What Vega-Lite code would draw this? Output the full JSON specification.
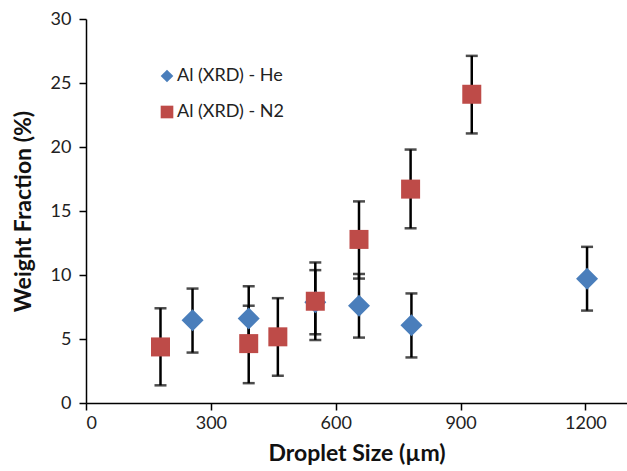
{
  "$schema": "https://vega.github.io/schema/vega-lite/v6.json",
  "width": 541,
  "height": 384,
  "autosize": "none",
  "padding": {"left": 86, "top": 19, "right": 0, "bottom": 68},
  "background": "white",
  "config": {
    "view": {"stroke": null},
    "font": "Lato",
    "axis": {
      "grid": false,
      "domainColor": "#000000",
      "domainWidth": 1.5,
      "tickColor": "#000000",
      "tickWidth": 1.5,
      "labelColor": "#222222",
      "labelFont": "Lato",
      "labelFontSize": 18,
      "titleFont": "Lato",
      "titleFontSize": 23,
      "titleFontWeight": "bold",
      "titleColor": "#111111"
    },
    "legend": {"symbolSize": 160}
  },
  "data": {
    "values": [
      {"series": "Al (XRD) - He", "size": 256, "wf": 6.47, "lo": 3.94, "hi": 8.94},
      {"series": "Al (XRD) - He", "size": 391, "wf": 6.6, "lo": 4.1, "hi": 9.12},
      {"series": "Al (XRD) - He", "size": 551, "wf": 7.87, "lo": 5.37, "hi": 10.38},
      {"series": "Al (XRD) - He", "size": 656, "wf": 7.6, "lo": 5.11, "hi": 10.08},
      {"series": "Al (XRD) - He", "size": 782, "wf": 6.07, "lo": 3.56, "hi": 8.56},
      {"series": "Al (XRD) - He", "size": 1204, "wf": 9.7, "lo": 7.22, "hi": 12.2},
      {"series": "Al (XRD) - N2", "size": 179, "wf": 4.38, "lo": 1.38, "hi": 7.4},
      {"series": "Al (XRD) - N2", "size": 391, "wf": 4.64, "lo": 1.55, "hi": 7.6},
      {"series": "Al (XRD) - N2", "size": 461, "wf": 5.17, "lo": 2.13, "hi": 8.19},
      {"series": "Al (XRD) - N2", "size": 551, "wf": 7.95, "lo": 4.92, "hi": 10.98},
      {"series": "Al (XRD) - N2", "size": 656, "wf": 12.78, "lo": 9.72, "hi": 15.75},
      {"series": "Al (XRD) - N2", "size": 780, "wf": 16.71, "lo": 13.65, "hi": 19.8},
      {"series": "Al (XRD) - N2", "size": 927, "wf": 24.12, "lo": 21.06, "hi": 27.12}
    ]
  },
  "encoding": {
    "x": {
      "field": "size", "type": "quantitative",
      "scale": {"domain": [0, 1300], "nice": false},
      "axis": {"values": [0, 300, 600, 900, 1200], "format": "d", "title": "Droplet Size (µm)", "tickSize": 7, "labelPadding": 4, "titlePadding": 10}
    },
    "y": {
      "field": "wf", "type": "quantitative",
      "scale": {"domain": [0, 30], "nice": false},
      "axis": {"values": [0, 5, 10, 15, 20, 25, 30], "title": "Weight Fraction (%)", "tickSize": 7, "labelPadding": 8, "titlePadding": 15}
    },
    "color": {
      "field": "series", "type": "nominal",
      "scale": {"domain": ["Al (XRD) - He", "Al (XRD) - N2"], "range": ["#4A7EBB", "#BE4B48"]},
      "legend": {
        "title": null, "orient": "none", "legendX": 72, "legendY": 48,
        "symbolSize": 160, "labelFont": "Lato", "labelFontSize": 18, "labelColor": "#222222",
        "labelOffset": 1, "rowPadding": 18, "padding": 0
      }
    },
    "shape": {
      "field": "series", "type": "nominal",
      "scale": {"domain": ["Al (XRD) - He", "Al (XRD) - N2"], "range": ["diamond", "square"]}
    }
  },
  "layer": [
    {
      "mark": {"type": "rule", "color": "#000000", "strokeWidth": 2.5},
      "encoding": {"y": {"field": "lo", "type": "quantitative"}, "y2": {"field": "hi"}, "color": {"value": "#000000"}, "shape": null}
    },
    {
      "mark": {"type": "tick", "orient": "horizontal", "color": "#000000", "size": 12, "thickness": 2.5},
      "encoding": {"y": {"field": "lo", "type": "quantitative"}, "color": {"value": "#000000"}, "shape": null}
    },
    {
      "mark": {"type": "tick", "orient": "horizontal", "color": "#000000", "size": 12, "thickness": 2.5},
      "encoding": {"y": {"field": "hi", "type": "quantitative"}, "color": {"value": "#000000"}, "shape": null}
    },
    {
      "transform": [{"filter": "datum.series === 'Al (XRD) - He'"}],
      "mark": {"type": "point", "filled": true, "opacity": 1, "size": 484}
    },
    {
      "transform": [{"filter": "datum.series === 'Al (XRD) - N2'"}],
      "mark": {"type": "point", "filled": true, "opacity": 1, "size": 361}
    }
  ]
}
